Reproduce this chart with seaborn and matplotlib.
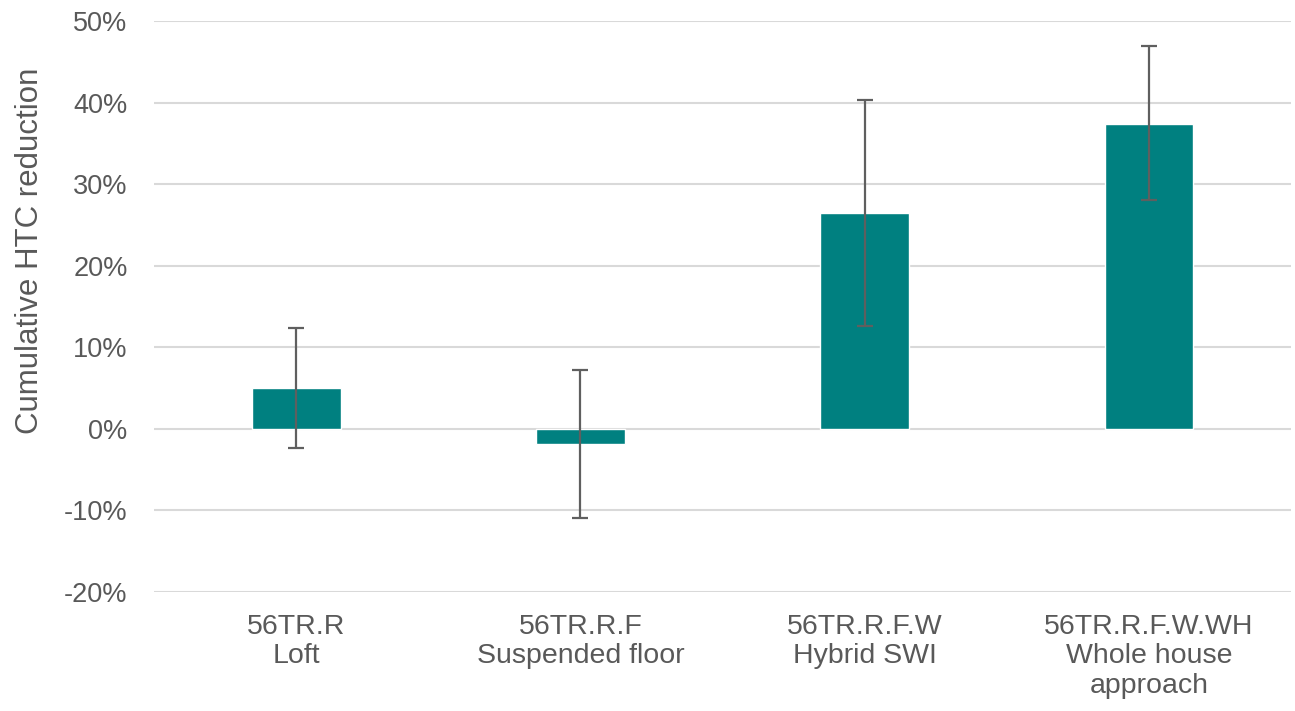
import matplotlib
matplotlib.use("Agg")
import matplotlib.pyplot as plt
import seaborn as sns
import pandas as pd
import numpy as np

# Measures and cumulative heat transfer coefficient reduction (%)
categories = ["56TR.R\nLoft", "56TR.R.F\nSuspended floor", "56TR.R.F.W\nHybrid SWI",
              "56TR.R.F.W.WH\nWhole house\napproach"]
reduction = [5.0, -1.8, 26.4, 37.4]
upper = [12.4, 7.2, 40.3, 46.9]
lower = [-2.4, -10.9, 12.6, 28.0]
yticks = [-20, -10, 0, 10, 20, 30, 40, 50]

df = pd.DataFrame({"measure": categories, "reduction": reduction})

sns.set_theme(style="white")
plt.rcParams["font.family"] = ["Liberation Sans", "DejaVu Sans"]

text_color = "#595959"
fig = plt.figure(figsize=(12.95, 7.11), dpi=100)
ax = fig.add_axes([0.119, 0.1674, 0.878, 0.8031])

sns.barplot(data=df, x="measure", y="reduction", color="#008080", saturation=1,
            width=0.313, errorbar=None, ax=ax, zorder=2)

xpos = np.arange(len(categories))
vals = np.array(reduction)
err = np.vstack([vals - np.array(lower), np.array(upper) - vals])
ax.errorbar(xpos, vals, yerr=err, fmt="none", ecolor="#5f5f5f", elinewidth=1.6,
            capsize=6, capthick=1.6, zorder=3)

ax.set_ylim(-20, 50)
ax.set_xlim(-0.5, 3.5)
ax.set_yticks(yticks)
ax.set_yticklabels([f"{t}%" for t in yticks])
ax.yaxis.grid(True, color="#d9d9d9", linewidth=1.5, zorder=0)
ax.set_axisbelow(True)
for s in ax.spines.values():
    s.set_visible(False)

ax.tick_params(axis="y", length=0, pad=19, labelsize=19.5, labelcolor=text_color)
ax.tick_params(axis="x", length=0, pad=16, labelsize=20.5, labelcolor=text_color)
for lbl in ax.get_xticklabels():
    lbl.set_linespacing(1.16)
ax.set_xlabel("")
ax.set_ylabel("Cumulative HTC reduction", fontsize=22.5, color=text_color)
ax.yaxis.set_label_coords(-0.096, 0.597)

fig.savefig("out.png", dpi=100, facecolor="white")
